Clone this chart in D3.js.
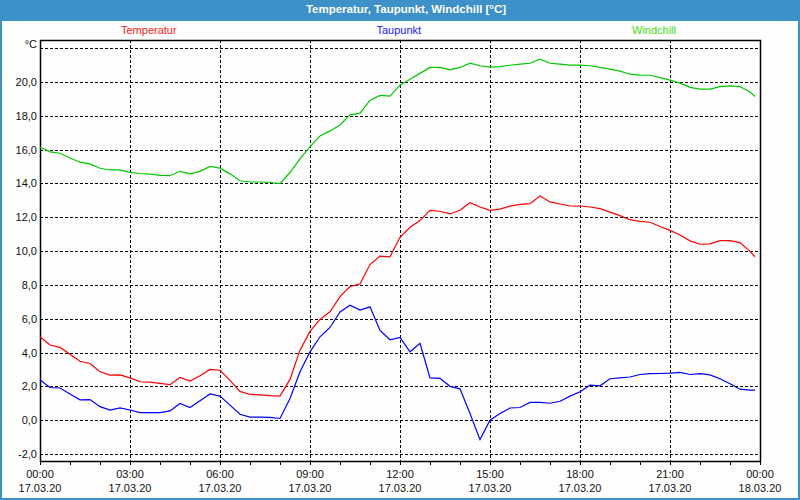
<!DOCTYPE html>
<html>
<head>
<meta charset="utf-8">
<script src="https://cdn.jsdelivr.net/npm/d3@7/dist/d3.min.js"></script>
<style>
body { margin: 0; background: #fff; }
text { font-family: "Liberation Sans Narrow", "Liberation Sans", sans-serif; }
</style>
</head>
<body>
<div id="vis"></div>
<script>
// measurement times (17.03.20)
var times = ["00:00","00:20","00:40","01:00","01:20","01:40","02:00","02:20","02:40",
    "03:00","03:20","03:40","04:00","04:20","04:40","05:00","05:20","05:40",
    "06:00","06:20","06:40","07:00","07:20","07:40","08:00","08:20","08:40",
    "09:00","09:20","09:40","10:00","10:20","10:40","11:00","11:20","11:40",
    "12:00","12:20","12:40","13:00","13:20","13:40","14:00","14:20","14:40",
    "15:00","15:20","15:40","16:00","16:20","16:40","17:00","17:20","17:40",
    "18:00","18:20","18:40","19:00","19:20","19:40","20:00","20:20","20:40",
    "21:00","21:20","21:40","22:00","22:20","22:40","23:00","23:20","23:40","23:50"];

var temperatur = [4.93,4.44,4.30,3.90,3.48,3.35,2.86,2.66,2.68,
    2.50,2.27,2.25,2.17,2.10,2.52,2.31,2.62,3.00,
    2.95,2.35,1.70,1.52,1.50,1.45,1.42,2.41,4.14,
    5.25,5.96,6.41,7.30,7.90,8.05,9.20,9.70,9.66,
    10.81,11.40,11.80,12.40,12.35,12.19,12.41,12.85,12.60,
    12.40,12.48,12.65,12.76,12.80,13.25,12.90,12.78,12.66,
    12.66,12.60,12.50,12.30,12.09,11.85,11.75,11.70,11.45,
    11.22,10.95,10.60,10.40,10.42,10.61,10.61,10.50,9.98,9.66];

var taupunkt = [2.37,1.93,1.90,1.55,1.20,1.22,0.80,0.59,0.72,
    0.60,0.45,0.45,0.45,0.55,0.99,0.75,1.15,1.55,
    1.42,0.89,0.35,0.18,0.18,0.16,0.10,1.28,2.86,
    4.04,4.93,5.48,6.40,6.80,6.51,6.70,5.30,4.75,
    4.89,4.04,4.54,2.50,2.47,2.00,1.85,0.39,-1.15,
    0.00,0.40,0.72,0.75,1.05,1.05,1.00,1.12,1.42,
    1.68,2.07,2.03,2.45,2.50,2.55,2.70,2.75,2.76,
    2.78,2.82,2.70,2.75,2.68,2.45,2.15,1.83,1.78,1.78];

var windchill = [16.13,15.86,15.78,15.50,15.25,15.15,14.89,14.79,14.80,
    14.65,14.58,14.55,14.47,14.45,14.71,14.56,14.71,15.00,
    14.90,14.56,14.15,14.08,14.08,14.05,13.98,14.64,15.45,
    16.15,16.80,17.10,17.45,18.05,18.15,18.90,19.20,19.15,
    19.80,20.15,20.50,20.85,20.85,20.71,20.85,21.10,20.95,
    20.87,20.90,20.98,21.05,21.10,21.34,21.10,21.05,20.99,
    20.99,20.95,20.85,20.75,20.63,20.45,20.40,20.39,20.25,
    20.10,19.92,19.67,19.57,19.57,19.72,19.76,19.72,19.40,19.13];

var seriesNames = ["Temperatur", "Taupunkt", "Windchill"];
var seriesColors = ["#ff0000", "#0000ff", "#00c800"];
var legendColors = ["#ff2020", "#2020ff", "#44dd11"];

var yTicks = [-2, 0, 2, 4, 6, 8, 10, 12, 14, 16, 18, 20, 22];
var xTicks = ["17.03.20 00:00","17.03.20 03:00","17.03.20 06:00","17.03.20 09:00",
    "17.03.20 12:00","17.03.20 15:00","17.03.20 18:00","17.03.20 21:00","18.03.20 00:00"];

var parse = d3.timeParse("%d.%m.%y %H:%M");
var fmtTime = d3.timeFormat("%H:%M");
var fmtDate = d3.timeFormat("%d.%m.%y");
var de = d3.formatLocale({decimal: ",", thousands: ".", grouping: [3], currency: ["", "€"], minus: "-"});
var fmtY = de.format(".1f");

var svgW = 800, svgH = 500;
// plot frame (note: "top" is taken by window.top)
var plotL = 40, plotR = 760, plotT = 40, plotB = 461;

var svg = d3.select('#vis').append('svg').attr('width', svgW).attr('height', svgH);

// background, title bar, border
svg.append('rect').attr('width', svgW).attr('height', svgH).style('fill', '#fdfefd');
svg.append('rect').attr('width', svgW).attr('height', 21).style('fill', '#3d90c8');
svg.append('rect').attr('x', 1).attr('y', 1).attr('width', svgW - 2).attr('height', svgH - 2)
    .style('fill', 'none').style('stroke', '#3d90c8').style('stroke-width', 2);
svg.append('text').text("Temperatur, Taupunkt, Windchill [°C]")
    .attr('x', 406).attr('y', 13).attr('text-anchor', 'middle')
    .style('fill', '#fff').style('font-weight', 'bold').style('font-size', '11.5px');

// scales
var x = d3.scaleTime().domain([parse(xTicks[0]), parse(xTicks[xTicks.length - 1])]).range([plotL, plotR]);
var y = d3.scaleLinear().domain([-2, 22]).range([454, 48]);

// legend
svg.selectAll('.legend').data(seriesNames).enter().append('text').attr('class', 'legend')
    .text(String).attr('x', function (d, i) { return 121 + i * 255.5; }).attr('y', 34)
    .style('fill', function (d, i) { return legendColors[i]; }).style('font-size', '11px');

var g = svg.append('g');

// horizontal grid
g.selectAll('.yGrid').data(yTicks).enter().append('line').attr('class', 'yGrid')
    .attr('x1', plotL).attr('x2', plotR)
    .attr('y1', function (d) { return Math.round(y(d)) + 0.5; })
    .attr('y2', function (d) { return Math.round(y(d)) + 0.5; })
    .style('stroke', '#000').style('stroke-dasharray', '3,2');

// vertical grid
g.selectAll('.xGrid').data(xTicks.slice(1, -1)).enter().append('line').attr('class', 'xGrid')
    .attr('x1', function (d) { return Math.round(x(parse(d))) + 0.5; })
    .attr('x2', function (d) { return Math.round(x(parse(d))) + 0.5; })
    .attr('y1', plotT).attr('y2', plotB)
    .style('stroke', '#000').style('stroke-dasharray', '3,2');

// y labels
g.selectAll('.yLabel').data(yTicks.slice(0, -1)).enter().append('text').attr('class', 'yLabel')
    .text(fmtY).attr('x', 37).attr('y', function (d) { return y(d) + 4; })
    .attr('text-anchor', 'end').style('font-size', '11px').style('fill', '#111');
g.append('text').text("°C").attr('x', 37).attr('y', 48).attr('text-anchor', 'end')
    .style('font-size', '11px').style('fill', '#111');

// hourly ticks
g.selectAll('.xTick').data(x.ticks(d3.timeHour.every(1))).enter().append('line').attr('class', 'xTick')
    .attr('x1', function (d) { return Math.round(x(d)) + 0.5; })
    .attr('x2', function (d) { return Math.round(x(d)) + 0.5; })
    .attr('y1', plotB).attr('y2', plotB + 4).style('stroke', '#000');

// x labels
g.selectAll('.xTime').data(xTicks).enter().append('text').attr('class', 'xTime')
    .text(function (d) { return fmtTime(parse(d)); })
    .attr('x', function (d) { return x(parse(d)); }).attr('y', 478)
    .attr('text-anchor', 'middle').style('font-size', '11px').style('fill', '#111');
g.selectAll('.xDate').data(xTicks).enter().append('text').attr('class', 'xDate')
    .text(function (d) { return fmtDate(parse(d)); })
    .attr('x', function (d) { return x(parse(d)); }).attr('y', 492)
    .attr('text-anchor', 'middle').style('font-size', '11px').style('fill', '#111');

// frame
g.append('rect').attr('x', plotL + 0.5).attr('y', plotT + 0.5)
    .attr('width', plotR - plotL).attr('height', plotB - plotT)
    .style('fill', 'none').style('stroke', '#000').style('stroke-width', 1.5);

// lines
var series = [temperatur, taupunkt, windchill];
var line = d3.line()
    .x(function (d, i) { return x(parse("17.03.20 " + times[i])); })
    .y(function (d) { return y(d); });

g.selectAll('.series').data(series).enter().append('path').attr('class', 'series')
    .attr('d', line)
    .style('fill', 'none')
    .style('stroke', function (d, i) { return seriesColors[i]; })
    .style('stroke-width', 1.2);
</script>
</body>
</html>
